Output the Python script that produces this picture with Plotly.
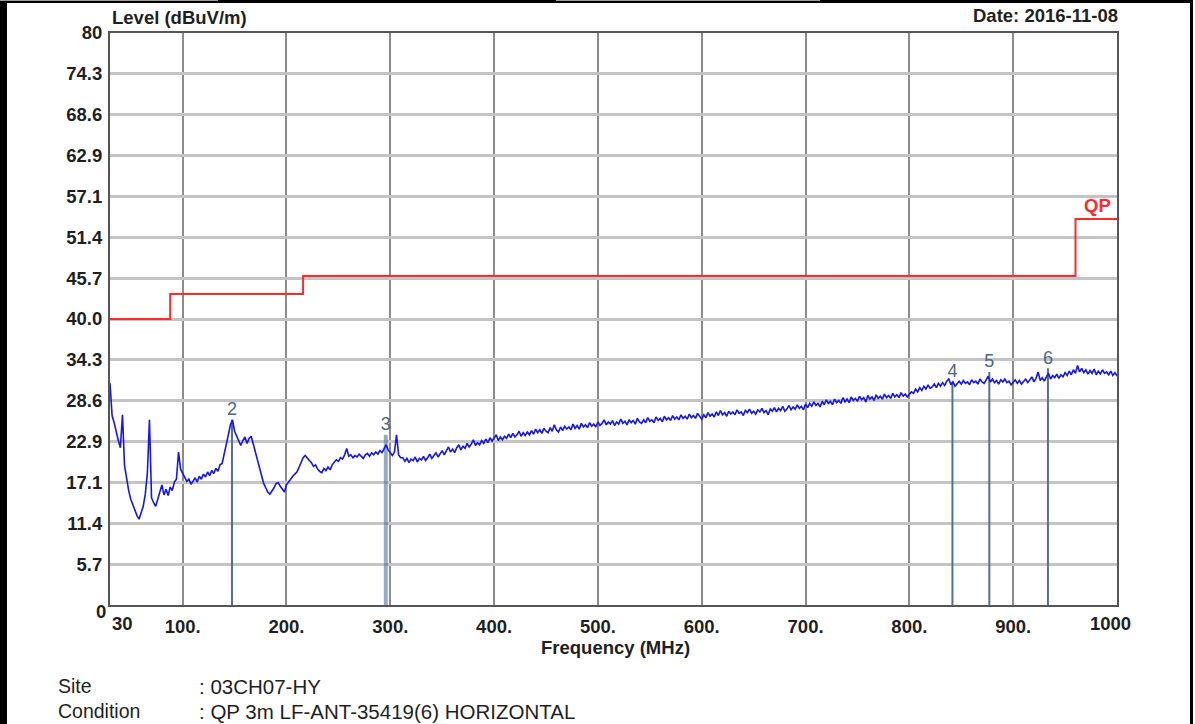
import plotly.graph_objects as go

# ---------------- data ----------------
# low band sweep (MHz) and level (dBuV/m)
freq_low = [30 + 2 * i for i in range(141)]  # 30 .. 310 MHz sweep points
level_low = [
    31.0, 26.5, 25.5, 24.0, 23.0, 22.0, 26.6, 19.5, 17.5, 16.0,
    14.8, 14.0, 13.2, 12.5, 12.0, 12.8, 13.8, 15.5, 18.5, 25.9,
    15.0, 14.3, 13.8, 14.8, 16.0, 16.8, 15.4, 16.2, 15.3, 16.5,
    16.0, 17.2, 17.6, 21.4, 19.0, 18.4, 17.9, 17.3, 17.6, 16.9,
    17.3, 17.8, 17.2, 18.0, 17.6, 18.3, 17.9, 18.6, 18.1, 18.8,
    18.4, 19.1, 18.7, 19.6, 19.8, 21.0, 22.2, 23.8, 25.2, 25.9,
    24.3, 23.6, 23.0, 22.3, 23.0, 23.5, 22.6, 23.3, 23.6, 22.5,
    21.6, 20.4, 19.0, 17.9, 17.0, 16.4, 15.8, 15.5, 15.9, 16.4,
    17.0, 17.1, 16.6, 16.2, 15.8, 16.8, 17.3, 17.6, 18.0, 18.3,
    18.6, 19.2, 19.8, 20.6, 20.9, 20.5, 20.2, 19.9, 19.4, 19.6,
    19.0, 18.7, 18.5, 19.1, 18.8, 19.3, 18.9, 19.6, 19.9, 20.3,
    20.1, 20.6, 20.4, 21.0, 21.9, 20.8, 21.0, 20.6, 20.9, 20.7,
    21.1, 20.8, 20.5, 21.0, 21.2, 20.8, 21.3, 21.0, 21.4, 21.1,
    21.6, 21.3, 21.8, 22.4, 21.7, 21.2, 20.9, 21.4, 23.8, 21.0,
    20.6,
]
freq_high = [312 + 2 * i for i in range(345)]  # 312 .. 1000 MHz sweep points
level_high = [
    20.6, 20.1, 20.5, 19.9, 20.4, 20.2, 20.7, 20.0, 20.5, 20.3,
    20.8, 20.2, 20.6, 21.1, 20.5, 20.9, 21.3, 20.7, 21.2, 21.6,
    21.0, 21.5, 22.1, 21.4, 21.8, 21.3, 22.0, 22.4, 21.7, 22.2,
    21.9, 22.6, 22.1, 22.5, 23.1, 22.3, 22.7, 22.4, 23.0, 22.6,
    23.2, 22.7, 23.4, 22.9, 23.3, 23.8, 23.0, 23.5, 23.1, 23.6,
    23.3, 23.9, 23.4, 24.0, 23.5, 23.8, 24.3, 23.6, 24.1, 23.7,
    24.2, 23.8, 24.4, 23.9, 24.6, 24.1, 24.5, 24.0, 24.7, 24.3,
    24.1, 24.8, 24.3, 25.2, 24.5, 24.2, 24.9, 24.4, 25.0, 24.6,
    24.9, 24.5, 25.3, 24.7, 25.1, 24.6, 25.4, 24.9, 25.2, 24.8,
    25.5, 25.0, 25.3, 24.9, 25.6, 25.1, 25.4, 25.9, 25.2, 25.6,
    25.3, 25.8, 25.1, 25.6, 25.3, 26.0, 25.4, 25.7, 25.2, 25.9,
    25.5, 25.8, 25.3, 26.1, 25.6, 25.4, 25.9, 25.5, 26.2, 25.7,
    25.9, 25.5, 26.3, 25.8, 26.1, 25.6, 26.4, 25.9, 26.2, 25.8,
    26.5, 26.0, 26.3, 25.9, 26.6, 26.1, 26.4, 26.0, 26.7, 26.2,
    26.5, 26.1, 26.8, 26.3, 26.0, 26.6, 26.2, 26.9, 26.4, 26.7,
    26.3, 27.0, 26.5, 27.2, 26.6, 26.9, 26.4, 27.1, 26.7, 27.0,
    26.6, 27.3, 26.8, 27.0, 26.5, 27.2, 26.9, 27.4, 26.8, 27.1,
    26.7, 27.3, 27.0, 27.5, 26.9, 27.2, 26.6, 27.4, 27.1, 27.6,
    27.0, 27.5, 27.2, 27.8, 27.1, 27.4, 27.9, 27.3, 27.7, 27.4,
    28.0, 27.5, 27.8, 27.3, 28.1, 27.6, 28.2, 27.8, 28.4, 27.9,
    28.2, 27.7, 28.5, 28.0, 28.7, 28.2, 28.5, 28.0, 28.8, 28.3,
    28.6, 28.2, 29.0, 28.4, 28.8, 28.3, 29.1, 28.6, 28.9, 28.5,
    29.2, 28.7, 29.0, 28.4, 29.3, 28.8, 29.1, 28.6, 29.4, 28.9,
    29.2, 28.8, 29.5, 29.0, 29.3, 28.9, 29.6, 29.1, 29.4, 29.0,
    29.7, 29.2, 29.5, 29.1, 29.4, 29.8, 29.6, 30.2, 29.8, 30.4,
    30.0, 30.6, 30.2, 30.8, 30.3, 30.5, 30.9, 30.4, 31.0, 30.6,
    31.1, 30.7, 31.3, 31.6, 30.8, 31.2, 30.6, 31.0, 31.3, 30.9,
    31.4, 31.0, 31.2, 30.8, 31.5, 31.1, 31.3, 30.9, 31.6, 31.2,
    31.0, 31.5, 32.0, 31.2, 31.6, 31.1, 31.4, 30.9, 31.5, 31.2,
    31.6, 31.1, 31.3, 30.8, 31.2, 31.5, 31.0, 31.4, 30.9, 31.3,
    31.6, 31.1, 31.5, 31.9, 31.2, 31.7, 32.6, 31.4, 31.8, 31.3,
    31.9, 32.4, 31.6, 32.1, 31.8, 32.3, 31.7, 32.2, 31.9, 32.5,
    32.1, 32.7, 32.2, 32.9, 32.4, 33.5, 32.6, 33.1, 32.5, 32.9,
    32.3, 32.8, 32.4, 33.0, 32.2, 32.7, 32.3, 32.9, 32.4, 32.6,
    32.2, 32.7, 32.1, 32.5, 32.0,
]

# QP limit line
limit_freq = [30, 88, 216, 960, 1000]
limit_level = [40.0, 43.5, 46.0, 54.0, 54.0]

# markers
marker_labels = ["2", "3", "4", "5", "6"]
marker_freq = [147.5, 295.7, 841.5, 877.0, 933.5]
marker_level = [25.9, 23.8, 31.2, 32.6, 33.1]
marker_width = [2, 4, 2, 2, 2]

# axis ticks
y_tick_vals = [i * 80 / 14 for i in range(15)]
y_tick_text = ["", "5.7", "11.4", "17.1", "22.9", "28.6", "34.3", "40.0",
               "45.7", "51.4", "57.1", "62.9", "68.6", "74.3", "80"]
x_tick_vals = [100, 200, 300, 400, 500, 600, 700, 800, 900]
x_tick_text = ["100.", "200.", "300.", "400.", "500.", "600.", "700.", "800.", "900."]

# ---------------- figure ----------------
W, H = 1195, 724
L, R, T, B = 110, 78, 33, 119
PH = H - T - B
PW = W - L - R

def px_x(p):
    return (p - L) / PW

def px_y(p):
    return (H - B - p) / PH

FONT = "Liberation Sans, Arial, sans-serif"
TXT = "#1f1f1f"
FS = 18.5

fig = go.Figure()

# marker lines
for lab, f, v, w in zip(marker_labels, marker_freq, marker_level, marker_width):
    col = "rgba(80,115,160,0.6)" if w > 2 else "#55708f"
    fig.add_trace(go.Scatter(x=[f, f], y=[0, v], mode="lines",
                             line=dict(color=col, width=w),
                             hoverinfo="skip", showlegend=False))

# measured trace
fig.add_trace(go.Scatter(x=freq_low + freq_high, y=level_low + level_high,
                         mode="lines", line=dict(color="#1414f5", width=1.6),
                         showlegend=False, name="Level"))

# limit
fig.add_trace(go.Scatter(x=limit_freq, y=limit_level, mode="lines",
                         line=dict(color="#ff2a2a", width=2, shape="hv"),
                         showlegend=False, name="QP"))

# marker labels
fig.add_trace(go.Scatter(x=marker_freq, y=marker_level, mode="text",
                         text=marker_labels, textposition="top center",
                         textfont=dict(family=FONT, size=18, color="#4a6585"),
                         showlegend=False, hoverinfo="skip"))

fig.update_layout(
    width=W, height=H,
    margin=dict(l=L, r=R, t=T, b=B, pad=0),
    paper_bgcolor="white", plot_bgcolor="white",
    font=dict(family=FONT, color=TXT),
    xaxis=dict(range=[30, 1000], tickvals=x_tick_vals, ticktext=x_tick_text,
               showgrid=True, gridcolor="#8c8c8c", gridwidth=1.5,
               showline=True, linecolor="#555555", linewidth=2, mirror=True,
               ticks="", zeroline=False, ticklabelstandoff=4,
               tickfont=dict(family=FONT, size=FS, color=TXT, weight="bold")),
    yaxis=dict(range=[0, 80], tickvals=y_tick_vals, ticktext=y_tick_text,
               showgrid=True, gridcolor="#c4c4c4", gridwidth=2.5,
               showline=True, linecolor="#555555", linewidth=2, mirror=True,
               ticks="", zeroline=False, ticklabelstandoff=2,
               tickfont=dict(family=FONT, size=FS, color=TXT, weight="bold")),
)

ann = []
ann.append(dict(xref="paper", yref="paper", x=0, y=px_y(18), xanchor="left", yanchor="middle",
                text="<b>Level (dBuV/m)</b>", showarrow=False,
                font=dict(family=FONT, size=FS, color=TXT)))
ann.append(dict(xref="paper", yref="paper", x=px_x(1120), y=px_y(16), xanchor="right", yanchor="middle",
                text="<b>Date: 2016-11-08</b>", showarrow=False,
                font=dict(family=FONT, size=FS, color=TXT)))
ann.append(dict(xref="paper", yref="paper", x=px_x(615), y=px_y(647), xanchor="center", yanchor="middle",
                text="<b>Frequency (MHz)</b>", showarrow=False,
                font=dict(family=FONT, size=FS, color=TXT)))
ann.append(dict(xref="x", yref="paper", x=30, y=px_y(623), xanchor="left", yanchor="middle",
                text="<b>30</b>", showarrow=False, font=dict(family=FONT, size=FS, color=TXT)))
ann.append(dict(xref="x", yref="paper", x=1000, y=px_y(623), xanchor="center", yanchor="middle",
                xshift=-7, text="<b>1000</b>", showarrow=False, font=dict(family=FONT, size=FS, color=TXT)))
ann.append(dict(xref="paper", yref="y", x=0, y=0, xanchor="right", yanchor="middle", xshift=-2, yshift=-6,
                text="<b>0</b>", showarrow=False, font=dict(family=FONT, size=FS, color=TXT)))
ann.append(dict(xref="x", yref="y", x=1000, y=54, xanchor="right", yanchor="bottom", xshift=-4, yshift=1,
                text="<b>QP</b>", showarrow=False, font=dict(family=FONT, size=FS, color="#ff2a2a")))
for i, (k, v) in enumerate([("Site", ": 03CH07-HY"), ("Condition", ": QP 3m LF-ANT-35419(6) HORIZONTAL")]):
    yy = px_y(686 + 25 * i)
    ann.append(dict(xref="paper", yref="paper", x=px_x(56), y=yy, xanchor="left", yanchor="middle",
                    text=k, showarrow=False, font=dict(family=FONT, size=19.5, color=TXT)))
    ann.append(dict(xref="paper", yref="paper", x=px_x(197), y=yy, xanchor="left", yanchor="middle",
                    text=v, showarrow=False, font=dict(family=FONT, size=20.5, color=TXT)))
fig.update_layout(annotations=ann)

# outer page frame
shapes = [
    dict(type="rect", xref="paper", yref="paper", x0=px_x(0), x1=px_x(7), y0=px_y(H), y1=px_y(0),
         fillcolor="black", line=dict(width=0), layer="above"),
    dict(type="rect", xref="paper", yref="paper", x0=px_x(1190), x1=px_x(1193), y0=px_y(H), y1=px_y(0),
         fillcolor="black", line=dict(width=0), layer="above"),
    dict(type="rect", xref="paper", yref="paper", x0=px_x(0), x1=px_x(1193), y0=px_y(3), y1=px_y(0),
         fillcolor="black", line=dict(width=0), layer="above"),
    dict(type="rect", xref="paper", yref="paper", x0=px_x(0), x1=px_x(218), y0=px_y(1), y1=px_y(0),
         fillcolor="#9a9a9a", line=dict(width=0), layer="above"),
    dict(type="rect", xref="paper", yref="paper", x0=px_x(556), x1=px_x(820), y0=px_y(1), y1=px_y(0),
         fillcolor="#9a9a9a", line=dict(width=0), layer="above"),
]
fig.update_layout(shapes=shapes)

fig.write_html("out.html", config={"displayModeBar": False},
               post_script="document.body.style.margin='0';document.body.style.overflow='hidden';")
